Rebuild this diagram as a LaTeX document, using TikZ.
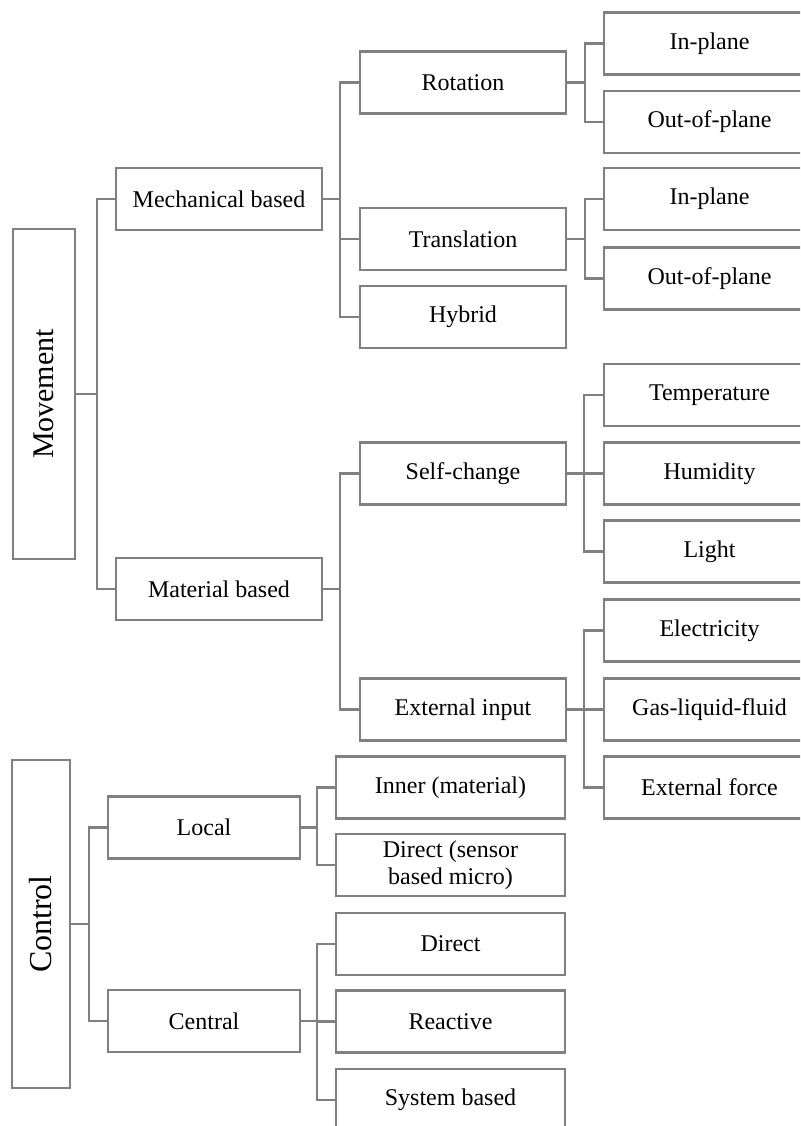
\documentclass[tikz,border=0pt]{standalone}
\usepackage{fontspec}
\setmainfont{Liberation Serif}
\begin{document}
\begin{tikzpicture}[x=0.5pt,y=-0.5pt,
    box/.style = {rectangle,draw=gray,line width=1.3pt,minimum height=31pt,inner sep=0pt,outer sep=0mm,align=center,font=\fontsize{12}{13.5}\selectfont},
    mid/.style = {box,minimum width=103pt},
    sub/.style = {box,minimum width=96pt},
    leaf/.style = {box,minimum width=105.5pt},
    ctl/.style = {box,minimum width=114.5pt},
    link/.style = {draw=gray,line width=1.3pt}]
\useasboundingbox (0,0) rectangle (800,1126);
\clip (0,0) rectangle (800,1126);
% roots
\node[box,minimum width=31pt,minimum height=165pt,font=\fontsize{15}{18}\selectfont] (move) at (44,394) {\rotatebox{90}{Movement}};
\node[box,minimum width=29pt,minimum height=164pt,font=\fontsize{16}{19}\selectfont] (ctrl) at (41,924) {\rotatebox{90}{Control}};
% first level
\node[mid] (mech) at (219,199) {Mechanical based};
\node[mid] (mat) at (219,589) {Material based};
\node[sub] (loc) at (204,827.5) {Local};
\node[sub] (cen) at (204,1021) {Central};
% second level
\node[mid] (rot) at (463,82.5) {Rotation};
\node[mid] (tra) at (463,239) {Translation};
\node[mid] (hyb) at (463,317) {Hybrid};
\node[mid] (self) at (463,473.5) {Self-change};
\node[mid] (ext) at (463,709.5) {External input};
\foreach \t/\y/\n in {Inner (material)/787.5/inner, Direct (sensor\\based micro)/865/sens,
                      Direct/944/dir, Reactive/1021.5/reac, System based/1100/sys}
    \node[ctl] (\n) at (450.5,\y) {\t};
% third level
\foreach \t/\y/\n in {In-plane/43.5/rin, Out-of-plane/122/rout, In-plane/199/tin, Out-of-plane/278.5/tout,
                      Temperature/395/temp, Humidity/473.5/hum, Light/551.5/lig,
                      Electricity/630.5/elec, Gas-liquid-fluid/709.5/gas, External force/787.5/force}
    \node[leaf] (\n) at (709.5,\y) {\t};
% connectors
\draw[link] (move.east) -- ++(22,0) coordinate (jm);
\draw[link] (jm) |- (mech.west);
\draw[link] (jm) |- (mat.west);
\draw[link] (ctrl.east) -- ++(19,0) coordinate (jc);
\draw[link] (jc) |- (loc.west);
\draw[link] (jc) |- (cen.west);
\draw[link] (mech.east) -- ++(18,0) coordinate (jmech);
\foreach \n in {rot, tra, hyb}
    \draw[link] (jmech) |- (\n.west);
\draw[link] (mat.east) -- ++(18,0) coordinate (jmat);
\foreach \n in {self, ext}
    \draw[link] (jmat) |- (\n.west);
\draw[link] (rot.east) -- ++(19,0) coordinate (jrot);
\foreach \n in {rin, rout}
    \draw[link] (jrot) |- (\n.west);
\draw[link] (tra.east) -- ++(19,0) coordinate (jtra);
\foreach \n in {tin, tout}
    \draw[link] (jtra) |- (\n.west);
\draw[link] (self.east) -- ++(18,0) coordinate (jself);
\foreach \n in {temp, hum, lig}
    \draw[link] (jself) |- (\n.west);
\draw[link] (ext.east) -- ++(18,0) coordinate (jext);
\foreach \n in {elec, gas, force}
    \draw[link] (jext) |- (\n.west);
\draw[link] (loc.east) -- ++(17,0) coordinate (jloc);
\foreach \n in {inner, sens}
    \draw[link] (jloc) |- (\n.west);
\draw[link] (cen.east) -- ++(17,0) coordinate (jcen);
\foreach \n in {dir, reac, sys}
    \draw[link] (jcen) |- (\n.west);
\end{tikzpicture}
\end{document}
